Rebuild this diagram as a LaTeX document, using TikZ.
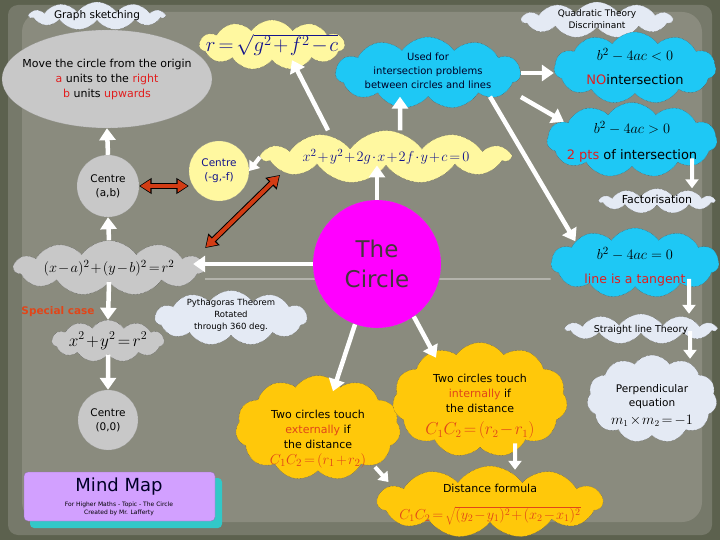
\documentclass[tikz,border=0pt]{standalone}
\usepackage{fontspec}
\setmainfont{DejaVu Sans}
\usetikzlibrary{shapes.symbols,shapes.geometric,arrows.meta,backgrounds}
\definecolor{bg}{RGB}{138,139,126}
\definecolor{bgmid}{RGB}{118,121,106}
\definecolor{bgdark}{RGB}{92,97,78}
\definecolor{greyn}{RGB}{200,200,200}
\definecolor{lightc}{RGB}{228,234,244}
\definecolor{yellowc}{RGB}{255,248,160}
\definecolor{bluec}{RGB}{30,200,245}
\definecolor{goldc}{RGB}{255,200,10}
\definecolor{magc}{RGB}{255,0,255}
\definecolor{redt}{RGB}{225,30,30}
\definecolor{oranget}{RGB}{225,70,25}
\definecolor{navy}{RGB}{20,20,140}
\definecolor{redarr}{RGB}{210,60,20}
\definecolor{purpb}{RGB}{210,160,255}
\definecolor{tealb}{RGB}{50,200,200}
\newcommand{\fsz}[2]{\fontsize{#1}{#2}\selectfont}
\newcommand{\tight}{\medmuskip=1.5mu\thickmuskip=2.5mu}
\newcommand{\ztext}[2][0pt]{\raisebox{\dimexpr-0.3em+#1\relax}[0pt][0pt]{\makebox[0pt]{\begin{tabular}{@{}c@{}}#2\end{tabular}}}}
\tikzset{
  cloudbase/.style={cloud, cloud puffs=11, cloud puff arc=110, cloud ignores aspect,
    draw=black!70, densely dotted, line width=0.4pt, inner sep=0pt, align=center},
  roundbase/.style={circle, draw=black!40, densely dotted, line width=0.4pt, inner sep=0pt, align=center},
  warrow/.style={draw=white, line width=4.5pt, -{Triangle[length=12pt,width=16pt]}},
  wsmall/.style={draw=white, line width=4pt, -{Triangle[length=9pt,width=13pt]}},
  redarrow/.style={draw=redarr, line width=4pt,
    {Triangle[length=10pt,width=12pt]}-{Triangle[length=10pt,width=12pt]},
    shorten >=1.2pt, shorten <=1.2pt,
    preaction={draw=black, line width=6pt, shorten >=0pt, shorten <=0pt,
      {Triangle[length=12.5pt,width=15.5pt]}-{Triangle[length=12.5pt,width=15.5pt]}}},
}
\begin{document}
\begin{tikzpicture}[x=1pt,y=-1pt]
\useasboundingbox (0,0) rectangle (720,540);
% ---------- nodes ----------
\node[cloudbase, fill=lightc, minimum width=135pt, minimum height=28pt, font=\fsz{10.5}{12}] (graph) at (97,16) {\ztext{Graph sketching}};
\node[ellipse, fill=greyn, draw=black!40, densely dotted, minimum width=210pt, minimum height=98pt, inner sep=0pt, font=\fsz{11}{15}] (move) at (107,79)
  {\ztext{Move the circle from the origin\\ \textcolor{redt}{a} units to the \textcolor{redt}{right}\\ \textcolor{redt}{b} units \textcolor{redt}{upwards}}};
\node[cloudbase, fill=yellowc, minimum width=145pt, minimum height=50pt, text=navy, font=\fsz{20}{22}] (rg) at (272,45) {\ztext{$\tight r=\sqrt{g^2+f^2-c}$}};
\node[cloudbase, fill=bluec, minimum width=185pt, minimum height=72pt, font=\fsz{10}{14}, text=black!85!blue] (used) at (428,73)
  {\ztext[2pt]{Used for\\intersection problems\\between circles and lines}};
\node[cloudbase, fill=lightc, minimum width=150pt, minimum height=36pt, font=\fsz{9}{11.5}] (quad) at (597,20) {\ztext{Quadratic Theory\\Discriminant}};
\node[cloudbase, fill=bluec, minimum width=162pt, minimum height=72pt, font=\fsz{13}{15}] (noint) at (635,68)
  {\ztext{{\fsz{15}{17}$b^2-4ac<0$}\\[9pt] \textcolor{redt}{NO}intersection}};
\node[cloudbase, fill=bluec, minimum width=170pt, minimum height=75pt, font=\fsz{13}{15}] (twopts) at (632,140)
  {\ztext[-2pt]{{\fsz{15}{17}$b^2-4ac>0$}\\[11pt] \textcolor{redt}{2 pts} of intersection}};
\node[cloudbase, fill=lightc, minimum width=115pt, minimum height=25pt, font=\fsz{11}{12}] (fact) at (657,201) {\ztext{Factorisation}};
\node[cloudbase, fill=bluec, minimum width=168pt, minimum height=70pt, font=\fsz{12.5}{15}] (tang) at (635,263)
  {\ztext[-4pt]{{\fsz{15}{17}$b^2-4ac=0$}\\[9pt] \textcolor{redt}{line is a tangent}}};
\node[cloudbase, fill=lightc, minimum width=150pt, minimum height=30pt, font=\fsz{9.5}{12}] (sline) at (641,329) {\ztext{Straight line Theory}};
\node[cloudbase, fill=lightc, minimum width=130pt, minimum height=88pt, font=\fsz{10.5}{14}] (perp) at (652,399)
  {\ztext[-6pt]{Perpendicular\\equation\\[4pt] {\fsz{13.5}{16}$\tight m_1\times m_2=-1$}}};
\node[roundbase, fill=greyn, minimum size=62pt, font=\fsz{10.5}{14}] (cab) at (108,186) {Centre\\(a,b)};
\node[roundbase, fill=yellowc, minimum size=60pt, text=navy, font=\fsz{10.5}{14}] (cgf) at (219,171) {Centre\\(-g,-f)};
\node[cloudbase, fill=yellowc, minimum width=247pt, minimum height=53pt, text=navy, font=\fsz{15.5}{18}] (gen) at (386,157) {\ztext{$\tight x^2+y^2+2g\cdot x+2f\cdot y+c=0$}};
\node[cloudbase, fill=greyn, minimum width=190pt, minimum height=55pt, font=\fsz{15.5}{18}] (std) at (109,268) {\ztext{$\tight (x-a)^2+(y-b)^2=r^2$}};
\node[roundbase, fill=magc, minimum size=128pt, font=\fsz{23}{30}, text=black!85!magenta] (circ) at (377,264) {The\\Circle};
\node[text=oranget, font=\bfseries\fsz{10.5}{12}] (spec) at (58,312) {Special case};
\node[cloudbase, fill=greyn, minimum width=112pt, minimum height=42pt, font=\fsz{18}{20}] (orig) at (108,341) {\ztext{$\tight x^2+y^2=r^2$}};
\node[cloudbase, fill=lightc, minimum width=152pt, minimum height=55pt, font=\fsz{8.5}{12}] (pyth) at (231,318) {\ztext[3pt]{Pythagoras Theorem\\Rotated\\through 360 deg.}};
\node[roundbase, fill=greyn, minimum size=60pt, font=\fsz{10.5}{14}] (c00) at (108,420) {Centre\\(0,0)};
\node[cloudbase, fill=goldc, minimum width=165pt, minimum height=105pt, font=\fsz{11}{15}] (ext) at (318,428)
  {\ztext[-10pt]{Two circles touch\\ \textcolor{oranget}{externally} if\\the distance\\ {\fsz{15}{17}\color{oranget}$\tight C_1C_2=(r_1+r_2)$}}};
\node[cloudbase, fill=goldc, minimum width=175pt, minimum height=115pt, font=\fsz{11}{15}] (int) at (480,400)
  {\ztext[-5pt]{Two circles touch\\ \textcolor{oranget}{internally} if\\the distance\\[5pt] {\fsz{16}{19}\color{oranget}$\tight C_1C_2=(r_2-r_1)$}}};
\node[cloudbase, fill=goldc, minimum width=225pt, minimum height=72pt, font=\fsz{11}{14}] (dist) at (490,502)
  {\ztext[-1pt]{Distance formula\\[10pt] {\fsz{14}{17}\color{oranget}$\tight C_1C_2=\sqrt{(y_2-y_1)^2+(x_2-x_1)^2}$}}};
\node[fill=tealb, rounded corners=4pt, minimum width=192pt, minimum height=50pt, inner sep=0pt] (mmshadow) at (126,503) {};
\node[fill=purpb, draw=purpb!70!black, line width=0.3pt, rounded corners=4pt, minimum width=191pt, minimum height=49pt, inner sep=0pt] (mm) at (119.5,496.5) {};
\node[font=\fsz{18}{20}, text=black!85!blue] (mmtitle) at (119,487) {Mind Map};
\node[font=\fsz{6}{8}, align=center] (mmsub) at (119,509) {For Higher Maths - Topic - The Circle\\Created by Mr. Lafferty};
% ---------- connectors ----------
\draw[warrow] (cab.north) -- (move.south);
\draw[warrow] (std.north) -- (cab.south);
\draw[warrow] (std.south) -- (orig.north);
\draw[warrow] (orig.south) -- (c00.north);
\draw[warrow] (circ.west) -- ([xshift=-12pt]std.east |- circ.west);
\draw[warrow] (circ.north) -- (circ.north |- gen.south);
\draw[warrow] ([xshift=-58pt]gen.north) -- ([xshift=20pt]rg.south);
\draw[warrow] ([xshift=14pt]gen.north) -- ([xshift=-28pt]used.south);
\draw[wsmall] (gen.west) -- (cgf.east);
\draw[redarrow] (cab.east) -- (cgf.west |- cab.east);
\draw[redarrow] ([yshift=20pt]std.east) -- ([xshift=20pt,yshift=-18pt]gen.west);
\draw[warrow] (used.east) -- (noint.west |- used.east);
\draw[warrow] ([yshift=-24pt]used.east) -- (twopts.165);
\draw[warrow] ([xshift=62pt]used.south) -- (tang.160);
\draw[wsmall] ([xshift=60pt,yshift=8pt]twopts.south) -- ([xshift=35pt]fact.north);
\draw[wsmall] ([xshift=54pt,yshift=8pt]tang.south) -- ([xshift=48pt]sline.north);
\draw[wsmall] ([xshift=49pt,yshift=2pt]sline.south) -- ([xshift=38pt,yshift=-4pt]perp.north);
\draw[warrow] (circ.250) -- ([xshift=15pt,yshift=-16pt]ext.north);
\draw[warrow] (circ.305) -- ([xshift=-44pt,yshift=-15.5pt]int.north);
\draw[wsmall] ([xshift=35pt,yshift=4pt]int.south) -- ([xshift=25pt,yshift=-4pt]dist.north);
\draw[wsmall] ([xshift=57pt,yshift=-39pt]ext.center) -- ([xshift=12pt,yshift=20pt]dist.west);
% ---------- background ----------
\begin{scope}[on background layer]
\fill[bgdark] (0,0) rectangle (720,540);
\fill[bgmid, rounded corners=10pt] (8,5) rectangle (712,535);
\fill[bg, rounded corners=20pt] (22,12) rectangle (702,522);
\draw[white, line width=0.8pt] ([yshift=-11pt]std.east) -- ([yshift=-16pt]tang.west);
\end{scope}
\end{tikzpicture}
\end{document}
